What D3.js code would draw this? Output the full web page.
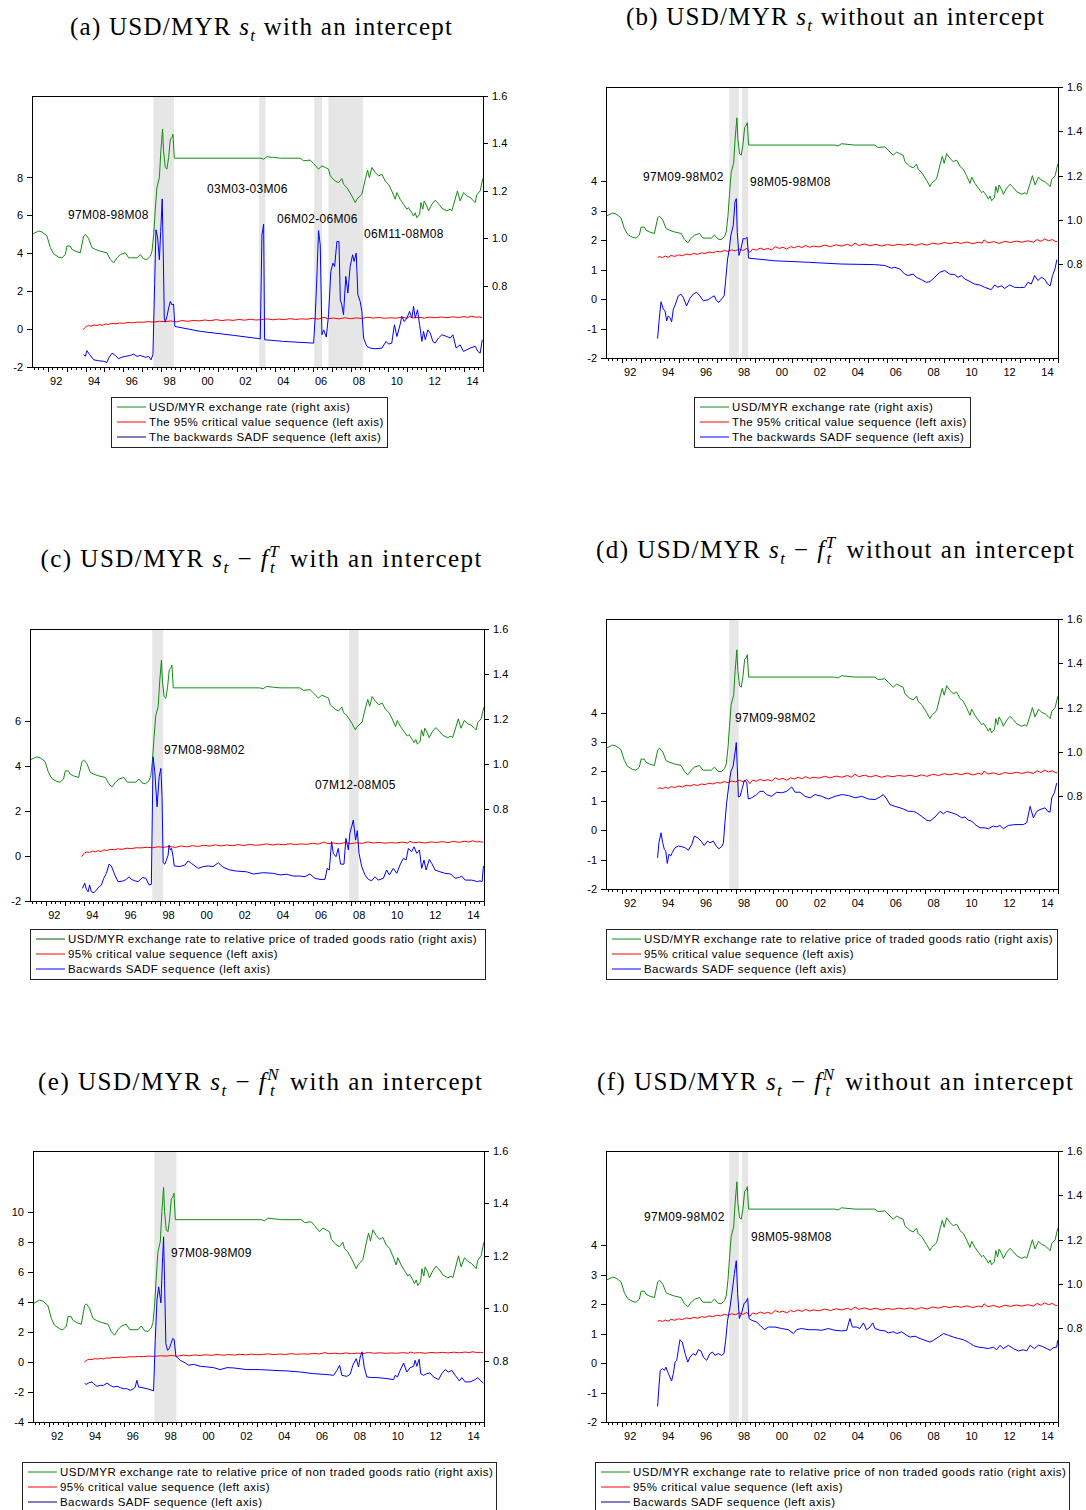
<!DOCTYPE html>
<html>
<head>
<meta charset="utf-8">
<script src="https://cdn.jsdelivr.net/npm/d3@7"></script>
<style>
body { margin: 0; background: #fff; }
svg text { font-family: Arial, "Liberation Sans", sans-serif; fill: #000; }
svg text.title { font-family: "Liberation Serif", "DejaVu Serif", serif; }
</style>
</head>
<body>
<div id="chart"></div>
<script>
"use strict";

// USD/MYR exchange rate (right axis), [decimal year, value]
const usdMyr = [[1991.17,1.017],[1991.52,1.031],[1991.70,1.027],[1991.96,1.010],[1992.14,0.961],[1992.31,0.935],[1992.58,0.921],[1992.75,0.918],[1992.93,0.932],[1993.02,0.968],[1993.19,0.968],[1993.28,0.954],[1993.46,0.946],[1993.72,0.939],[1993.90,1.010],[1993.99,1.017],[1994.16,1.000],[1994.34,0.961],[1994.51,0.954],[1994.78,0.946],[1995.13,0.939],[1995.31,0.911],[1995.48,0.897],[1995.66,0.918],[1995.84,0.932],[1996.10,0.939],[1996.28,0.918],[1996.45,0.918],[1996.72,0.918],[1996.89,0.932],[1997.07,0.914],[1997.24,0.911],[1997.42,0.925],[1997.51,0.946],[1997.60,1.017],[1997.68,1.116],[1997.77,1.214],[1997.90,1.256],[1997.98,1.369],[1998.07,1.461],[1998.12,1.369],[1998.21,1.299],[1998.30,1.292],[1998.39,1.341],[1998.48,1.418],[1998.56,1.425],[1998.62,1.439],[1998.69,1.338],[2003.23,1.338],[2003.41,1.334],[2003.58,1.344],[2003.93,1.341],[2004.29,1.338],[2005.34,1.338],[2005.52,1.327],[2005.87,1.330],[2006.05,1.315],[2006.31,1.292],[2006.49,1.306],[2006.66,1.299],[2006.84,1.292],[2006.93,1.263],[2007.19,1.242],[2007.37,1.235],[2007.54,1.252],[2007.63,1.228],[2007.81,1.214],[2008.07,1.179],[2008.25,1.151],[2008.34,1.165],[2008.60,1.186],[2008.78,1.249],[2008.90,1.287],[2009.00,1.256],[2009.13,1.299],[2009.30,1.278],[2009.48,1.263],[2009.66,1.270],[2009.83,1.242],[2010.01,1.228],[2010.18,1.200],[2010.36,1.165],[2010.45,1.193],[2010.62,1.165],[2010.80,1.144],[2010.98,1.123],[2011.06,1.130],[2011.24,1.108],[2011.33,1.094],[2011.42,1.108],[2011.50,1.087],[2011.65,1.101],[2011.72,1.151],[2011.82,1.123],[2011.89,1.158],[2012.03,1.137],[2012.12,1.116],[2012.30,1.144],[2012.47,1.161],[2012.65,1.146],[2012.83,1.127],[2013.09,1.116],[2013.27,1.123],[2013.35,1.116],[2013.53,1.165],[2013.65,1.200],[2013.79,1.158],[2013.97,1.193],[2014.14,1.179],[2014.32,1.172],[2014.50,1.158],[2014.59,1.151],[2014.67,1.183],[2014.85,1.200],[2014.99,1.252]];

// 95% critical value sequences (left axis)
const cvIntercept = [[1993.88,-0.03],[1993.96,0.08],[1994.05,0.14],[1994.15,0.18],[1994.30,0.16],[1994.45,0.22],[1994.60,0.19],[1994.75,0.24],[1994.90,0.20],[1995.05,0.27],[1995.20,0.25],[1995.40,0.30],[1995.60,0.28],[1995.80,0.32],[1996.00,0.30],[1996.25,0.35],[1996.50,0.33],[1996.75,0.37],[1997.00,0.36],[1997.30,0.39],[1997.60,0.37],[1997.90,0.41],[1998.20,0.39],[1998.50,0.43],[1998.80,0.38],[1999.10,0.45],[1999.40,0.41],[1999.70,0.46],[2000.00,0.43],[2000.30,0.48],[2000.60,0.44],[2000.90,0.50],[2001.20,0.45],[2001.50,0.49],[2001.80,0.46],[2002.10,0.51],[2002.40,0.47],[2002.70,0.52],[2003.00,0.48],[2003.30,0.50],[2003.60,0.54],[2003.90,0.49],[2004.20,0.53],[2004.50,0.50],[2004.80,0.55],[2005.10,0.51],[2005.40,0.54],[2005.70,0.52],[2006.00,0.57],[2006.30,0.53],[2006.60,0.62],[2006.80,0.55],[2007.10,0.58],[2007.40,0.54],[2007.70,0.60],[2008.00,0.55],[2008.30,0.59],[2008.60,0.56],[2008.90,0.63],[2009.20,0.58],[2009.50,0.61],[2009.80,0.57],[2010.10,0.60],[2010.40,0.58],[2010.70,0.62],[2011.00,0.58],[2011.10,0.66],[2011.30,0.59],[2011.60,0.62],[2011.90,0.58],[2012.20,0.63],[2012.50,0.60],[2012.80,0.64],[2013.10,0.60],[2013.40,0.65],[2013.70,0.61],[2014.00,0.66],[2014.20,0.62],[2014.40,0.68],[2014.60,0.63],[2014.80,0.64],[2014.96,0.61]];

const cvNoIntercept = [[1993.89,1.42],[1994.00,1.44],[1994.15,1.41],[1994.30,1.46],[1994.45,1.42],[1994.60,1.48],[1994.80,1.45],[1995.00,1.50],[1995.20,1.47],[1995.40,1.53],[1995.60,1.50],[1995.80,1.55],[1996.00,1.52],[1996.20,1.57],[1996.40,1.55],[1996.60,1.60],[1996.80,1.57],[1997.00,1.62],[1997.20,1.60],[1997.40,1.65],[1997.60,1.62],[1997.80,1.67],[1998.00,1.64],[1998.20,1.70],[1998.40,1.65],[1998.60,1.72],[1998.75,1.58],[1998.90,1.70],[1999.10,1.66],[1999.30,1.73],[1999.50,1.68],[1999.70,1.72],[1999.90,1.67],[2000.10,1.78],[2000.30,1.72],[2000.50,1.76],[2000.70,1.70],[2000.90,1.78],[2001.10,1.74],[2001.30,1.80],[2001.50,1.75],[2001.70,1.82],[2001.90,1.76],[2002.10,1.80],[2002.40,1.77],[2002.70,1.83],[2003.00,1.78],[2003.30,1.84],[2003.60,1.80],[2003.90,1.86],[2004.10,1.80],[2004.30,1.90],[2004.50,1.82],[2004.80,1.87],[2005.10,1.81],[2005.40,1.86],[2005.70,1.80],[2006.00,1.85],[2006.30,1.82],[2006.60,1.86],[2006.90,1.83],[2007.20,1.87],[2007.50,1.82],[2007.80,1.88],[2008.10,1.83],[2008.40,1.90],[2008.70,1.86],[2009.00,1.92],[2009.30,1.88],[2009.60,1.93],[2009.90,1.89],[2010.20,1.94],[2010.50,1.88],[2010.80,1.93],[2011.00,1.90],[2011.10,2.01],[2011.30,1.91],[2011.60,1.95],[2011.90,1.89],[2012.20,1.96],[2012.50,1.92],[2012.80,1.97],[2013.10,1.93],[2013.40,1.98],[2013.70,1.93],[2013.90,2.02],[2014.10,1.96],[2014.30,2.04],[2014.50,1.98],[2014.70,2.02],[2014.85,1.96],[2014.96,1.95]];

// Backwards SADF sequences (left axis)
const bsadfA = [[1993.90,-1.35],[1993.99,-1.44],[1994.07,-1.14],[1994.22,-1.35],[1994.43,-1.62],[1994.69,-1.67],[1994.96,-1.70],[1995.13,-1.76],[1995.22,-1.53],[1995.40,-1.27],[1995.57,-1.39],[1995.75,-1.56],[1995.92,-1.48],[1996.10,-1.44],[1996.36,-1.39],[1996.54,-1.32],[1996.72,-1.44],[1996.89,-1.39],[1997.16,-1.49],[1997.33,-1.44],[1997.46,-1.62],[1997.56,-1.35],[1997.65,2.34],[1997.72,5.24],[1997.81,4.80],[1997.90,3.66],[1997.97,5.15],[1998.05,6.87],[1998.11,3.74],[1998.16,0.58],[1998.21,0.37],[1998.30,0.67],[1998.39,1.11],[1998.48,1.46],[1998.56,1.28],[1998.65,1.32],[1998.72,0.14],[2000.06,-0.12],[2001.82,-0.33],[2003.21,-0.51],[2003.23,-0.53],[2003.32,4.97],[2003.41,5.54],[2003.46,-0.56],[2004.46,-0.65],[2006.05,-0.74],[2006.13,0.58],[2006.22,2.69],[2006.31,5.20],[2006.40,4.45],[2006.49,-0.30],[2006.58,-0.04],[2006.72,-0.42],[2006.84,0.76],[2006.96,3.04],[2007.07,3.48],[2007.16,3.30],[2007.28,4.62],[2007.39,4.62],[2007.46,1.55],[2007.54,1.28],[2007.63,0.76],[2007.75,2.78],[2007.86,1.90],[2007.98,3.30],[2008.11,3.92],[2008.19,3.57],[2008.30,4.01],[2008.39,1.81],[2008.51,1.46],[2008.60,0.93],[2008.69,-0.47],[2008.86,-0.91],[2009.04,-1.00],[2009.30,-1.04],[2009.66,-1.00],[2009.88,-0.65],[2010.01,-0.79],[2010.18,-0.74],[2010.32,0.23],[2010.45,-0.39],[2010.62,0.23],[2010.71,0.67],[2010.84,0.40],[2010.98,0.58],[2011.12,0.93],[2011.24,0.58],[2011.33,1.20],[2011.42,0.58],[2011.54,1.02],[2011.65,0.23],[2011.77,-0.65],[2011.86,-0.12],[2011.95,-0.56],[2012.09,-0.04],[2012.21,-0.21],[2012.35,-0.65],[2012.47,-0.74],[2012.65,-0.47],[2012.83,-0.30],[2013.09,-0.39],[2013.27,-0.47],[2013.41,-0.30],[2013.58,-1.00],[2013.79,-0.83],[2013.97,-1.18],[2014.14,-1.09],[2014.32,-1.00],[2014.59,-0.91],[2014.73,-1.18],[2014.85,-1.27],[2014.96,-0.56]];

const bsadfB = [[1993.89,-1.34],[1993.96,-0.80],[1994.07,-0.09],[1994.19,-0.34],[1994.28,-0.40],[1994.37,-0.74],[1994.45,-0.57],[1994.54,-0.63],[1994.63,-0.77],[1994.72,-0.34],[1994.80,-0.23],[1994.98,0.11],[1995.12,0.17],[1995.24,0.06],[1995.42,-0.23],[1995.59,0.02],[1995.77,0.17],[1995.95,0.23],[1996.12,0.11],[1996.30,-0.06],[1996.56,-0.02],[1996.74,0.06],[1996.88,0.11],[1997.00,-0.06],[1997.12,-0.11],[1997.26,0.00],[1997.40,0.11],[1997.47,0.57],[1997.58,1.36],[1997.67,1.70],[1997.75,2.16],[1997.88,2.50],[1997.97,3.30],[1998.04,3.41],[1998.09,2.27],[1998.18,1.48],[1998.28,1.70],[1998.40,2.05],[1998.53,2.05],[1998.61,2.10],[1998.69,1.39],[2000.07,1.30],[2001.83,1.25],[2003.58,1.19],[2005.34,1.17],[2005.87,1.14],[2006.22,1.05],[2006.39,1.08],[2006.66,1.02],[2006.92,0.85],[2007.10,0.80],[2007.36,0.85],[2007.53,0.74],[2007.80,0.66],[2008.06,0.57],[2008.24,0.59],[2008.50,0.74],[2008.76,0.91],[2009.03,0.97],[2009.29,0.85],[2009.55,0.83],[2009.73,0.74],[2009.91,0.80],[2010.08,0.68],[2010.26,0.63],[2010.43,0.57],[2010.61,0.51],[2010.87,0.48],[2011.13,0.40],[2011.31,0.36],[2011.48,0.32],[2011.66,0.48],[2011.83,0.40],[2012.01,0.45],[2012.19,0.36],[2012.45,0.48],[2012.71,0.40],[2012.98,0.39],[2013.24,0.40],[2013.42,0.57],[2013.59,0.51],[2013.77,0.80],[2013.94,0.63],[2014.12,0.74],[2014.29,0.68],[2014.45,0.51],[2014.59,0.45],[2014.71,0.80],[2014.84,1.02],[2014.94,1.34]];

const bsadfC = [[1993.92,-1.44],[1994.04,-1.21],[1994.13,-1.48],[1994.22,-1.59],[1994.30,-1.29],[1994.39,-1.59],[1994.53,-1.63],[1994.66,-1.51],[1994.80,-1.36],[1994.92,-1.29],[1995.04,-0.99],[1995.18,-0.77],[1995.32,-0.36],[1995.44,-0.44],[1995.62,-0.84],[1995.79,-1.14],[1996.06,-1.11],[1996.23,-1.04],[1996.37,-0.92],[1996.49,-1.04],[1996.67,-1.10],[1996.84,-1.14],[1997.07,-0.96],[1997.25,-0.99],[1997.42,-1.29],[1997.54,-1.26],[1997.63,4.41],[1997.72,3.75],[1997.84,2.19],[1997.95,3.53],[1998.04,3.90],[1998.10,2.64],[1998.16,-0.30],[1998.25,-0.36],[1998.33,-0.18],[1998.42,0.04],[1998.47,0.49],[1998.54,0.27],[1998.60,0.34],[1998.68,-0.03],[1998.74,-0.44],[1999.03,-0.47],[1999.30,-0.40],[1999.47,-0.22],[1999.65,-0.33],[2000.00,-0.55],[2000.26,-0.47],[2000.52,-0.44],[2000.78,-0.47],[2001.05,-0.30],[2001.31,-0.50],[2001.66,-0.62],[2002.01,-0.67],[2002.54,-0.70],[2002.89,-0.80],[2003.41,-0.74],[2003.94,-0.77],[2004.29,-0.84],[2004.64,-0.81],[2004.99,-0.89],[2005.34,-0.89],[2005.60,-0.92],[2005.86,-0.80],[2006.13,-0.99],[2006.39,-1.04],[2006.65,-1.04],[2006.77,-0.55],[2006.88,-0.62],[2007.00,0.64],[2007.09,0.12],[2007.23,-0.03],[2007.35,0.34],[2007.47,-0.36],[2007.65,-0.36],[2007.75,0.79],[2007.88,0.27],[2007.96,1.01],[2008.05,1.30],[2008.14,1.60],[2008.26,0.71],[2008.35,1.13],[2008.44,0.12],[2008.58,-0.47],[2008.75,-0.84],[2008.93,-1.04],[2009.10,-1.10],[2009.28,-0.92],[2009.45,-1.07],[2009.72,-0.99],[2009.89,-0.62],[2010.03,-0.84],[2010.24,-0.55],[2010.42,-0.77],[2010.59,-0.40],[2010.77,-0.10],[2010.91,-0.18],[2011.03,0.34],[2011.20,0.19],[2011.33,0.41],[2011.47,0.12],[2011.61,0.27],[2011.73,-0.55],[2011.85,-0.18],[2011.96,-0.62],[2012.13,-0.15],[2012.26,-0.33],[2012.43,-0.62],[2012.69,-0.70],[2012.96,-0.77],[2013.26,-0.80],[2013.48,-0.99],[2013.71,-0.95],[2013.83,-0.89],[2014.01,-1.07],[2014.36,-1.07],[2014.66,-1.14],[2014.79,-1.10],[2014.90,-1.14],[2014.97,-0.44]];

const bsadfD = [[1993.89,-0.94],[1993.96,-0.43],[1994.07,-0.09],[1994.16,-0.43],[1994.25,-0.66],[1994.32,-0.71],[1994.40,-1.13],[1994.49,-0.82],[1994.58,-0.88],[1994.67,-0.75],[1994.81,-0.60],[1994.98,-0.54],[1995.16,-0.56],[1995.34,-0.60],[1995.51,-0.68],[1995.69,-0.49],[1995.83,-0.20],[1996.00,-0.26],[1996.18,-0.37],[1996.35,-0.52],[1996.53,-0.37],[1996.65,-0.43],[1996.83,-0.37],[1997.00,-0.56],[1997.13,-0.63],[1997.27,-0.56],[1997.36,-0.43],[1997.44,0.25],[1997.53,0.93],[1997.66,1.60],[1997.76,2.00],[1997.87,2.17],[1997.97,2.62],[1998.04,2.98],[1998.09,2.17],[1998.15,1.13],[1998.24,1.15],[1998.36,1.44],[1998.46,1.69],[1998.59,1.63],[1998.67,1.06],[1998.85,1.10],[1999.11,1.21],[1999.29,1.32],[1999.47,1.32],[1999.64,1.21],[1999.90,1.15],[2000.17,1.29],[2000.43,1.27],[2000.70,1.32],[2000.96,1.47],[2001.14,1.29],[2001.40,1.29],[2001.67,1.15],[2001.93,1.10],[2002.19,1.21],[2002.54,1.15],[2002.89,1.06],[2003.24,1.15],[2003.60,1.21],[2003.95,1.18],[2004.30,1.10],[2004.65,1.15],[2005.00,1.06],[2005.35,1.04],[2005.62,1.13],[2005.79,1.21],[2005.97,1.06],[2006.14,0.87],[2006.41,0.81],[2006.67,0.76],[2006.93,0.70],[2007.11,0.64],[2007.37,0.64],[2007.55,0.59],[2007.81,0.47],[2008.08,0.34],[2008.25,0.31],[2008.52,0.45],[2008.78,0.64],[2008.96,0.56],[2009.13,0.64],[2009.40,0.59],[2009.66,0.53],[2009.92,0.42],[2010.10,0.45],[2010.27,0.34],[2010.45,0.31],[2010.63,0.19],[2010.89,0.08],[2011.15,0.08],[2011.33,0.05],[2011.59,0.14],[2011.77,0.11],[2011.94,0.16],[2012.12,0.05],[2012.38,0.16],[2012.73,0.19],[2013.17,0.19],[2013.35,0.25],[2013.53,0.81],[2013.70,0.42],[2013.88,0.64],[2014.05,0.70],[2014.32,0.76],[2014.46,0.64],[2014.58,0.61],[2014.67,1.10],[2014.81,1.27],[2014.93,1.60]];

const bsadfE = [[1993.90,-1.44],[1993.99,-1.49],[1994.11,-1.40],[1994.29,-1.33],[1994.37,-1.44],[1994.55,-1.62],[1994.73,-1.56],[1994.90,-1.56],[1995.08,-1.40],[1995.25,-1.56],[1995.43,-1.67],[1995.61,-1.62],[1995.78,-1.71],[1995.96,-1.78],[1996.13,-1.78],[1996.31,-1.89],[1996.49,-1.78],[1996.57,-1.67],[1996.66,-1.22],[1996.75,-1.67],[1996.93,-1.71],[1997.19,-1.78],[1997.46,-1.89],[1997.54,-1.93],[1997.63,1.44],[1997.72,4.11],[1997.81,5.00],[1997.93,3.93],[1998.02,7.00],[1998.07,8.33],[1998.12,5.44],[1998.19,1.22],[1998.28,0.78],[1998.37,0.89],[1998.46,1.22],[1998.55,1.56],[1998.63,1.49],[1998.72,0.38],[1998.95,0.11],[1999.22,-0.07],[1999.39,-0.22],[1999.66,-0.16],[2000.01,-0.29],[2000.36,-0.33],[2000.71,-0.38],[2001.06,-0.51],[2001.42,-0.38],[2001.77,-0.40],[2002.47,-0.51],[2003.18,-0.51],[2003.88,-0.56],[2004.59,-0.60],[2005.29,-0.67],[2005.99,-0.78],[2006.70,-0.84],[2007.05,-0.89],[2007.23,-0.56],[2007.37,-0.22],[2007.49,-0.89],[2007.75,-0.96],[2007.93,-0.82],[2008.07,-0.22],[2008.25,0.22],[2008.37,-0.33],[2008.46,0.33],[2008.56,0.67],[2008.67,-0.33],[2008.81,-1.00],[2009.07,-1.04],[2009.34,-1.04],[2009.87,-1.11],[2010.22,-1.18],[2010.31,-0.89],[2010.43,-1.00],[2010.57,-0.56],[2010.75,-0.07],[2010.92,-0.67],[2011.10,-0.38],[2011.28,-0.29],[2011.36,0.11],[2011.45,-0.29],[2011.57,0.18],[2011.66,-0.78],[2011.80,-0.89],[2011.98,-0.78],[2012.15,-0.73],[2012.33,-1.00],[2012.60,-1.18],[2012.77,-0.78],[2012.95,-0.51],[2013.12,-0.67],[2013.30,-0.56],[2013.48,-0.89],[2013.70,-1.27],[2013.83,-1.04],[2014.00,-1.33],[2014.27,-1.33],[2014.53,-1.18],[2014.67,-1.04],[2014.79,-1.22],[2014.97,-1.40]];

const bsadfF = [[1993.89,-1.47],[1993.96,-0.82],[1994.03,-0.25],[1994.14,-0.19],[1994.25,-0.25],[1994.33,-0.14],[1994.46,-0.36],[1994.63,-0.61],[1994.72,-0.36],[1994.81,0.03],[1994.90,0.09],[1994.98,0.43],[1995.07,0.79],[1995.19,0.71],[1995.34,0.32],[1995.48,0.03],[1995.60,0.20],[1995.77,0.32],[1995.90,0.26],[1996.04,0.45],[1996.18,0.41],[1996.30,0.20],[1996.48,0.09],[1996.65,0.32],[1996.78,0.37],[1996.92,0.26],[1997.09,0.32],[1997.27,0.26],[1997.39,0.32],[1997.48,0.77],[1997.58,1.45],[1997.71,1.90],[1997.83,2.47],[1997.94,3.04],[1998.04,3.47],[1998.11,2.36],[1998.20,1.51],[1998.32,1.70],[1998.45,2.02],[1998.55,2.07],[1998.64,2.19],[1998.71,1.51],[1998.85,1.45],[1999.11,1.39],[1999.29,1.28],[1999.52,1.13],[1999.73,1.22],[2000.08,1.22],[2000.43,1.17],[2000.78,1.13],[2001.05,1.00],[2001.22,1.13],[2001.48,1.17],[2001.84,1.13],[2002.19,1.13],[2002.54,1.11],[2002.89,1.17],[2003.24,1.11],[2003.60,1.09],[2003.86,1.11],[2004.03,1.51],[2004.16,1.22],[2004.39,1.22],[2004.56,1.17],[2004.74,1.36],[2004.91,1.13],[2005.09,1.22],[2005.23,1.36],[2005.35,1.17],[2005.62,1.11],[2005.88,1.09],[2006.06,1.02],[2006.32,1.06],[2006.50,1.00],[2006.76,1.06],[2007.02,0.94],[2007.20,0.88],[2007.46,0.91],[2007.73,0.83],[2007.99,0.77],[2008.25,0.71],[2008.43,0.77],[2008.69,0.88],[2008.96,1.00],[2009.22,0.94],[2009.48,0.88],[2009.75,0.83],[2010.01,0.79],[2010.27,0.71],[2010.54,0.59],[2010.80,0.54],[2011.06,0.52],[2011.33,0.49],[2011.59,0.54],[2011.77,0.45],[2011.94,0.60],[2012.12,0.49],[2012.38,0.60],[2012.65,0.49],[2012.91,0.41],[2013.17,0.45],[2013.35,0.41],[2013.53,0.60],[2013.75,0.49],[2013.97,0.60],[2014.14,0.57],[2014.41,0.49],[2014.58,0.43],[2014.76,0.52],[2014.93,0.54],[2014.98,0.77]];

// Bubble periods (shaded) and their labels
const periodsA = ["97M08-98M08", "03M03-03M06", "06M02-06M06", "06M11-08M08"];
const periodsB = ["97M09-98M02", "98M05-98M08"];
const periodsC = ["97M08-98M02", "07M12-08M05"];
const periodsD = ["97M09-98M02"];
const periodsE = ["97M08-98M09"];
const periodsF = ["97M09-98M02", "98M05-98M08"];

// Axis ticks
const yearTicks = [1992, 1994, 1996, 1998, 2000, 2002, 2004, 2006, 2008, 2010, 2012, 2014];
const rightTicks = [0.8, 1.0, 1.2, 1.4, 1.6];
const leftTicksA = [-2, 0, 2, 4, 6, 8];
const leftTicksC = [-2, 0, 2, 4, 6];
const leftTicksE = [-4, -2, 0, 2, 4, 6, 8, 10];
const leftTicksNoInt = [-2, -1, 0, 1, 2, 3, 4];

// Legend texts
const legendS = ["USD/MYR exchange rate (right axis)", "The 95% critical value sequence (left axis)", "The backwards SADF sequence (left axis)"];
const legendT = ["USD/MYR exchange rate to relative price of traded goods ratio (right axis)", "95% critical value sequence (left axis)", "Bacwards SADF sequence (left axis)"];
const legendN = ["USD/MYR exchange rate to relative price of non traded goods ratio (right axis)", "95% critical value sequence (left axis)", "Bacwards SADF sequence (left axis)"];

// Titles (plain / italic / sub / sup parts)
const titleS = (tag, rest) => [{t: tag + " USD/MYR "}, {t: "s", i: 1}, {t: "t", i: 1, sub: 1}, {t: rest}];
const titleF = (tag, letter, rest) => [{t: tag + " USD/MYR "}, {t: "s", i: 1}, {t: "t", i: 1, sub: 1}, {t: " \u2212 "}, {t: "f", i: 1}, {t: letter, i: 1, sup: 1}, {t: "t", i: 1, sub: 1, shiftX: -10}, {t: rest, shiftX: 6}];

const GREEN = "#128c12", RED = "#ff0000", BLUE = "#0000ff", NAVY = "#00007a";

const xDomain = [1991.17, 2015.0];

const panels = [
    {title: titleS("(a)", " with an intercept"), tx: 261, ty: 35, tw: 382,
     frame: {l: 32, t: 96, r: 483, b: 367}, left: [-2, 12.3], leftTicks: leftTicksA, right: [0.458, 1.6],
     cv: cvIntercept, bsadf: bsadfA, periods: periodsA,
     labelPos: [[68, 219], [207, 193], [277, 223], [364, 238]],
     legend: {x: 111, y: 397, w: 276, h: 50}, legendText: legendS, legendColors: [GREEN, RED, NAVY]},
    {title: titleS("(b)", " without an intercept"), tx: 835, ty: 25, tw: 418,
     frame: {l: 606, t: 87, r: 1058, b: 358}, left: [-2, 7.2], leftTicks: leftTicksNoInt, right: [0.377, 1.6],
     cv: cvNoIntercept, bsadf: bsadfB, periods: periodsB,
     labelPos: [[643, 181], [750, 186]],
     legend: {x: 694, y: 397, w: 276, h: 50}, legendText: legendS, legendColors: [GREEN, RED, BLUE]},
    {title: titleF("(c)", "T", " with an intercept"), tx: 261, ty: 567, tw: 441,
     frame: {l: 30, t: 629, r: 484, b: 901}, left: [-2, 10.1], leftTicks: leftTicksC, right: [0.389, 1.6],
     cv: cvIntercept, bsadf: bsadfC, periods: periodsC,
     labelPos: [[164, 754], [315, 789]],
     legend: {x: 30, y: 929, w: 455, h: 50}, legendText: legendT, legendColors: ["#0a5a0a", RED, BLUE]},
    {title: titleF("(d)", "T", " without an intercept"), tx: 835, ty: 558, tw: 478,
     frame: {l: 606, t: 619, r: 1058, b: 889}, left: [-2, 7.18], leftTicks: leftTicksNoInt, right: [0.382, 1.6],
     cv: cvNoIntercept, bsadf: bsadfD, periods: periodsD,
     labelPos: [[735, 722]],
     legend: {x: 606, y: 929, w: 451, h: 50}, legendText: legendT, legendColors: [GREEN, RED, BLUE]},
    {title: titleF("(e)", "N", " with an intercept"), tx: 260, ty: 1090, tw: 444,
     frame: {l: 33, t: 1151, r: 484, b: 1422}, left: [-4, 14.05], leftTicks: leftTicksE, right: [0.566, 1.6],
     cv: cvIntercept, bsadf: bsadfE, periods: periodsE,
     labelPos: [[171, 1257]],
     legend: {x: 22, y: 1462, w: 474, h: 60}, legendText: legendN, legendColors: [GREEN, RED, NAVY]},
    {title: titleF("(f)", "N", " without an intercept"), tx: 835, ty: 1090, tw: 476,
     frame: {l: 606, t: 1151, r: 1058, b: 1422}, left: [-2, 7.19], leftTicks: leftTicksNoInt, right: [0.378, 1.6],
     cv: cvNoIntercept, bsadf: bsadfF, periods: periodsF,
     labelPos: [[644, 1221], [751, 1241]],
     legend: {x: 595, y: 1462, w: 474, h: 60}, legendText: legendN, legendColors: [GREEN, RED, NAVY]}
];

// "97M08" -> decimal year of the start of that month
function monthStart(s) {
    const yy = +s.slice(0, 2), mm = +s.slice(3, 5);
    return (yy > 50 ? 1900 + yy : 2000 + yy) + (mm - 1) / 12;
}

function mathTitle(svg, p) {
    const text = svg.append("text")
        .attr("class", "title")
        .attr("x", p.tx)
        .attr("y", p.ty)
        .attr("text-anchor", "middle")
        .style("font-size", "25px");
    let shift = 0;
    p.title.forEach(part => {
        const target = part.sub ? 6 : part.sup ? -10 : 0;
        const ts = text.append("tspan").text(part.t).attr("dy", target - shift);
        shift = target;
        if (part.i) ts.style("font-style", "italic");
        if (part.sub || part.sup) ts.style("font-size", "17px");
        if (part.shiftX) ts.attr("dx", part.shiftX);
    });
    text.attr("textLength", p.tw).attr("lengthAdjust", "spacing");
}

function drawPanel(svg, p) {
    const f = p.frame;
    const x = d3.scaleLinear().domain(xDomain).range([f.l, f.r]);
    const yL = d3.scaleLinear().domain(p.left).range([f.b, f.t]);
    const yR = d3.scaleLinear().domain(p.right).range([f.b, f.t]);

    mathTitle(svg, p);

    // Shaded bubble periods
    svg.append("g")
        .selectAll("rect")
        .data(p.periods)
        .enter()
        .append("rect")
        .attr("x", d => x(monthStart(d.slice(0, 5))))
        .attr("width", d => x(monthStart(d.slice(6, 11)) + 1 / 12) - x(monthStart(d.slice(0, 5))))
        .attr("y", f.t)
        .attr("height", f.b - f.t)
        .style("fill", "#e6e6e6");

    // Axes
    const leftAxis = d3.axisLeft(yL).tickValues(p.leftTicks).tickSize(5).tickSizeOuter(0)
        .tickPadding(4).tickFormat(d => String(d));
    const rightAxis = d3.axisRight(yR).tickValues(rightTicks).tickSize(5).tickSizeOuter(0)
        .tickPadding(4).tickFormat(d3.format(".1f"));
    const quarters = d3.range(Math.ceil(xDomain[0] * 4) / 4, xDomain[1] + 0.001, 0.25);
    const minorAxis = d3.axisBottom(x).tickValues(quarters.filter(q => q % 1 !== 0))
        .tickSize(3).tickSizeOuter(0).tickFormat("");
    const yearAxis = d3.axisBottom(x).tickValues(d3.range(1992, 2016)).tickSize(5)
        .tickSizeOuter(0).tickFormat("");
    const labelAxis = d3.axisBottom(x).tickValues(yearTicks.map(y => y + 0.42)).tickSize(0)
        .tickPadding(10).tickFormat(d => d3.format("02d")(Math.floor(d) % 100));

    [
        [leftAxis, `translate(${f.l},0)`],
        [rightAxis, `translate(${f.r},0)`],
        [minorAxis, `translate(0,${f.b})`],
        [yearAxis, `translate(0,${f.b})`],
        [labelAxis, `translate(0,${f.b})`]
    ].forEach(([axis, tr]) => {
        const g = svg.append("g").attr("transform", tr).call(axis);
        g.select(".domain").remove();
        g.selectAll("line").style("stroke", "#000").style("shape-rendering", "crispEdges");
        g.selectAll("text").style("font-size", "11px").style("font-family", "Arial, 'Liberation Sans', sans-serif");
    });

    // Series lines
    const lineL = d3.line().x(d => x(d[0])).y(d => yL(d[1]));
    const lineR = d3.line().x(d => x(d[0])).y(d => yR(d[1]));

    svg.append("path").datum(usdMyr).attr("d", lineR)
        .style("fill", "none").style("stroke", GREEN).style("stroke-width", 1);
    svg.append("path").datum(p.cv).attr("d", lineL)
        .style("fill", "none").style("stroke", RED).style("stroke-width", 1);
    svg.append("path").datum(p.bsadf).attr("d", lineL)
        .style("fill", "none").style("stroke", BLUE).style("stroke-width", 1);

    // Frame
    svg.append("rect")
        .attr("x", f.l).attr("y", f.t)
        .attr("width", f.r - f.l).attr("height", f.b - f.t)
        .style("fill", "none").style("stroke", "#000").style("stroke-width", 1)
        .style("shape-rendering", "crispEdges");

    // Period labels
    svg.append("g")
        .selectAll("text")
        .data(p.periods)
        .enter()
        .append("text")
        .attr("x", (d, i) => p.labelPos[i][0])
        .attr("y", (d, i) => p.labelPos[i][1])
        .style("font-size", "12px")
        .style("letter-spacing", "0.3px")
        .text(d => d);

    // Legend
    const lg = svg.append("g").attr("transform", `translate(${p.legend.x},${p.legend.y})`);
    lg.append("rect")
        .attr("width", p.legend.w).attr("height", p.legend.h)
        .style("fill", "#fff").style("stroke", "#222").style("stroke-width", 1)
        .style("shape-rendering", "crispEdges");
    const item = lg.selectAll(".legend-item")
        .data(p.legendText)
        .enter()
        .append("g")
        .attr("class", "legend-item")
        .attr("transform", (d, i) => `translate(0,${10 + i * 15})`);
    item.append("line")
        .attr("x1", 6).attr("x2", 35)
        .style("stroke", (d, i) => p.legendColors[i]).style("stroke-width", 1);
    item.append("text")
        .attr("x", 38).attr("y", 4)
        .style("font-size", "11.5px")
        .style("letter-spacing", "0.45px")
        .text(d => d);
}

function main() {
    const svg = d3.select("#chart")
        .append("svg")
        .attr("width", 1086)
        .attr("height", 1510);
    panels.forEach(p => drawPanel(svg, p));
}

document.addEventListener("DOMContentLoaded", main);
</script>
</body>
</html>
